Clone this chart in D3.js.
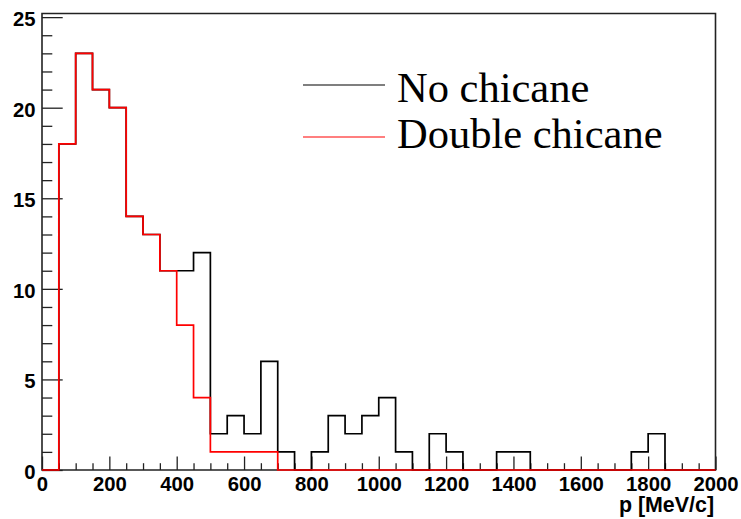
<!DOCTYPE html>
<html>
<head>
<meta charset="utf-8">
<script src="https://cdn.jsdelivr.net/npm/d3@7"></script>
<style>
  html, body { margin: 0; padding: 0; background: #fff; }
  svg { display: block; }
</style>
</head>
<body>
<svg id="chart" width="741" height="519"></svg>
<script>
// ---- data ----
const binWidth = 50;
const binStarts = d3.range(0, 2000, binWidth); // 40 bins, 0..1950
const noChicane = [0, 18, 23, 21, 20, 14, 13, 11, 11, 12,
                   2, 3, 2, 6, 1, 0, 1, 3, 2, 3,
                   4, 1, 0, 2, 1, 0, 0, 1, 1, 0,
                   0, 0, 0, 0, 0, 1, 2, 0, 0, 0];
const doubleChicane = [0, 18, 23, 21, 20, 14, 13, 11, 8, 4,
                       1, 1, 1, 1, 0, 0, 0, 0, 0, 0,
                       0, 0, 0, 0, 0, 0, 0, 0, 0, 0,
                       0, 0, 0, 0, 0, 0, 0, 0, 0, 0];
const seriesNames = ["No chicane", "Double chicane"];
const seriesColors = ["#000000", "#ff0000"];
const xMajorTicks = [0, 200, 400, 600, 800, 1000, 1200, 1400, 1600, 1800, 2000];
const yMajorTicks = [0, 5, 10, 15, 20, 25];
const xTitle = "p [MeV/c]";

// ---- layout ----
const svg = d3.select("#chart");
const mLeft = 42, mRight = 715.5, mTop = 13.5, mBottom = 470;
const x = d3.scaleLinear().domain([0, 2000]).range([mLeft, mRight]);
const y = d3.scaleLinear().domain([0, 25.2]).range([mBottom, mTop]);

const tickFont = "'Liberation Sans', Arial, Helvetica, sans-serif";

// x axis minor ticks
const xMinor = d3.range(0, 2001, 50).filter(v => v % 200 !== 0);
svg.append("g").attr("transform", `translate(0,${mBottom})`)
  .call(d3.axisBottom(x).tickValues(xMinor).tickSize(-6.8).tickFormat(""))
  .call(g => g.select(".domain").remove())
  .call(g => g.selectAll("line").attr("stroke", "#222").attr("stroke-width", 1.3));
// x axis major ticks + labels
svg.append("g").attr("transform", `translate(0,${mBottom})`)
  .call(d3.axisBottom(x).tickValues(xMajorTicks).tickSize(-13.5).tickPadding(7).tickFormat(d3.format("d")))
  .call(g => g.select(".domain").remove())
  .call(g => g.selectAll("line").attr("stroke", "#222").attr("stroke-width", 1.3))
  .call(g => g.selectAll("text")
      .attr("font-family", tickFont).attr("font-weight", "bold")
      .attr("font-size", 20.3).attr("fill", "#000"));

// y axis minor ticks
const yMinor = d3.range(0, 26, 1).filter(v => v % 5 !== 0);
svg.append("g").attr("transform", `translate(${mLeft},0)`)
  .call(d3.axisLeft(y).tickValues(yMinor).tickSize(-10.3).tickFormat(""))
  .call(g => g.select(".domain").remove())
  .call(g => g.selectAll("line").attr("stroke", "#222").attr("stroke-width", 1.3));
// y axis major ticks + labels
svg.append("g").attr("transform", `translate(${mLeft},0)`)
  .call(d3.axisLeft(y).tickValues(yMajorTicks).tickSize(-20.7).tickPadding(6.5).tickFormat(d3.format("d")))
  .call(g => g.select(".domain").remove())
  .call(g => g.selectAll("line").attr("stroke", "#222").attr("stroke-width", 1.3))
  .call(g => g.selectAll("text")
      .attr("dy", "0.42em")
      .attr("font-family", tickFont).attr("font-weight", "bold")
      .attr("font-size", 20.3).attr("fill", "#000"));

// frame
svg.append("path")
  .attr("d", `M${mLeft},${mBottom}L${mLeft},${mTop}L${mRight},${mTop}L${mRight},${mBottom}Z`)
  .attr("fill", "none").attr("stroke", "#222").attr("stroke-width", 1.6);

// histograms (step outline)
function stepPoints(values) {
  const pts = [[x(0), y(0)]];
  values.forEach((v, i) => {
    pts.push([x(binStarts[i]), y(v)]);
    pts.push([x(binStarts[i] + binWidth), y(v)]);
  });
  pts.push([x(2000), y(0)]);
  return pts;
}
const line = d3.line();
[noChicane, doubleChicane].forEach((vals, k) => {
  svg.append("path")
    .attr("d", line(stepPoints(vals)))
    .attr("fill", "none")
    .attr("stroke", seriesColors[k])
    .attr("stroke-width", 1.7)
    .attr("stroke-linejoin", "miter");
});

// x title
svg.append("text")
  .attr("x", 714).attr("y", 512)
  .attr("text-anchor", "end")
  .attr("font-family", tickFont).attr("font-weight", "bold")
  .attr("font-size", 21.4).attr("fill", "#000")
  .text(xTitle);

// legend
const legend = svg.append("g");
seriesNames.forEach((name, k) => {
  const ly = [85, 137][k];
  legend.append("line")
    .attr("x1", 303).attr("x2", 385).attr("y1", ly).attr("y2", ly)
    .attr("stroke", seriesColors[k]).attr("stroke-width", 1.2);
  legend.append("text")
    .attr("x", 397).attr("y", [102, 148][k])
    .attr("font-family", "'Liberation Serif', 'Times New Roman', serif")
    .attr("font-size", 42.5).attr("fill", "#000")
    .text(name);
});
</script>
</body>
</html>
